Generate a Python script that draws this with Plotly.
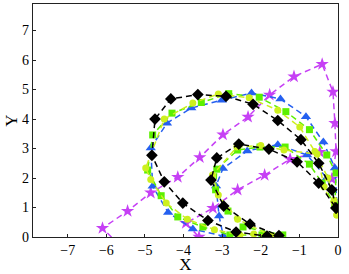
import plotly.graph_objects as go

# path data (outer arc then inner loop)
black_x = [-0.05, -0.16, -0.5, -0.96, -1.56, -2.2, -2.9, -3.63, -4.33, -4.74, -4.82, -4.5, -4.02, -3.37, -2.64, -1.84, -1.53,
           -2.28, -2.96, -3.29, -3.14, -2.57, -1.79, -1.06, -0.5, -0.05]
black_y = [0.98, 1.6, 2.5, 3.3, 3.95, 4.5, 4.77, 4.83, 4.68, 4.0, 2.77, 1.87, 1.15, 0.56, 0.17, 0.03, 0.05,
           0.44, 1.05, 1.93, 2.68, 3.15, 2.98, 2.55, 1.83, 0.98]

blue_x = [-0.03, -0.08, -0.38, -0.83, -1.49, -2.24, -3.01, -3.8, -4.43, -4.85, -4.8, -4.4, -3.76, -2.97,
          -3.08, -3.16, -2.98, -2.35, -1.56, -0.8, -0.29, -0.03]
blue_y = [1.15, 2.34, 3.22, 4.08, 4.68, 4.88, 4.64, 4.37, 3.86, 3.02, 1.72, 0.83, 0.27, 0.03,
          0.71, 1.73, 2.32, 2.92, 3.13, 2.78, 2.0, 1.15]

green_x = [-0.08, -0.05, -0.29, -0.74, -1.35, -2.04, -2.83, -3.54, -4.3, -4.8, -4.93, -4.58, -4.15, -3.5, -2.8, -1.97, -1.43,
           -2.46, -2.85, -3.17, -3.14, -2.6, -2.02, -1.37, -0.74, -0.41, -0.08]
green_y = [1.08, 2.17, 2.78, 3.64, 4.25, 4.74, 4.86, 4.56, 4.2, 3.46, 2.27, 1.4, 0.68, 0.34, 0.07, 0.07, 0.07,
           0.34, 0.88, 1.6, 2.3, 2.95, 3.05, 3.05, 2.47, 1.83, 1.08]

yellow_x = [-0.03, -0.1, -0.26, -0.6, -0.99, -1.56, -2.3, -3.1, -3.76, -4.5, -4.98, -4.85, -4.45, -3.9, -3.2, -2.54, -2.18, -1.71,
            -2.6, -3.1, -3.25, -2.62, -2.0, -1.4, -0.54, -0.36, -0.03]
yellow_y = [0.75, 1.25, 2.0, 2.9, 3.73, 4.3, 4.72, 4.85, 4.54, 4.0, 2.34, 1.95, 1.15, 0.6, 0.25, 0.07, 0.1, 0.03,
            0.6, 1.42, 2.1, 3.05, 3.1, 2.95, 2.81, 1.7, 0.75]

magenta_x = [-0.16, -0.05, -0.08, -0.13, -0.41, -1.14, -1.77, -2.33, -2.98, -3.58, -4.15, -4.85, -5.45, -6.1, -5.6,
             -3.6, -3.94, -3.24, -2.6, -1.9, -1.24, -0.47]
magenta_y = [1.97, 2.9, 3.86, 4.92, 5.86, 5.44, 4.82, 4.07, 3.47, 2.7, 2.03, 1.5, 0.88, 0.3, -0.35,
             0.0, 0.47, 0.98, 1.6, 2.1, 2.64, 2.88]

x_ticks = [-7, -6, -5, -4, -3, -2, -1, 0]
y_ticks = [0, 1, 2, 3, 4, 5, 6, 7]

series = [
    (magenta_x, magenta_y, "#c640f5", "star", 10),
    (blue_x, blue_y, "#2560f0", "triangle-up", 9),
    (green_x, green_y, "#5cf000", "square", 7),
    (yellow_x, yellow_y, "#cdf01e", "circle", 7),
    (black_x, black_y, "#000000", "diamond", 9),
]

fig = go.Figure()
for xs, ys, col, sym, sz in series:
    fig.add_trace(go.Scatter(
        x=xs, y=ys, mode="lines+markers",
        line=dict(color=col, width=1.5, dash="6px,4px"),
        marker=dict(symbol=sym, size=sz, color=col),
        showlegend=False,
    ))

axis_style = dict(
    showline=True, mirror=True, linecolor="#222", linewidth=1.3,
    ticks="inside", ticklen=3, tickcolor="#222",
    showgrid=False, zeroline=False, automargin=False,
)

fig.update_layout(
    width=349, height=274,
    margin=dict(l=33, r=11, t=4, b=37),
    paper_bgcolor="white", plot_bgcolor="white",
    font=dict(family="Liberation Serif", size=14, color="black"),
    xaxis=dict(range=[-7.9, 0], tickvals=x_ticks, title=dict(text="X", standoff=0), **axis_style),
    yaxis=dict(range=[0, 7.9], tickvals=y_ticks, title=dict(text="Y", standoff=0), **axis_style),
)

# page body has an 8px default margin; drop it so the figure sits at the corner
fig.write_html(
    "out.html",
    config={"displayModeBar": False},
    post_script="document.body.style.margin='0';",
)
